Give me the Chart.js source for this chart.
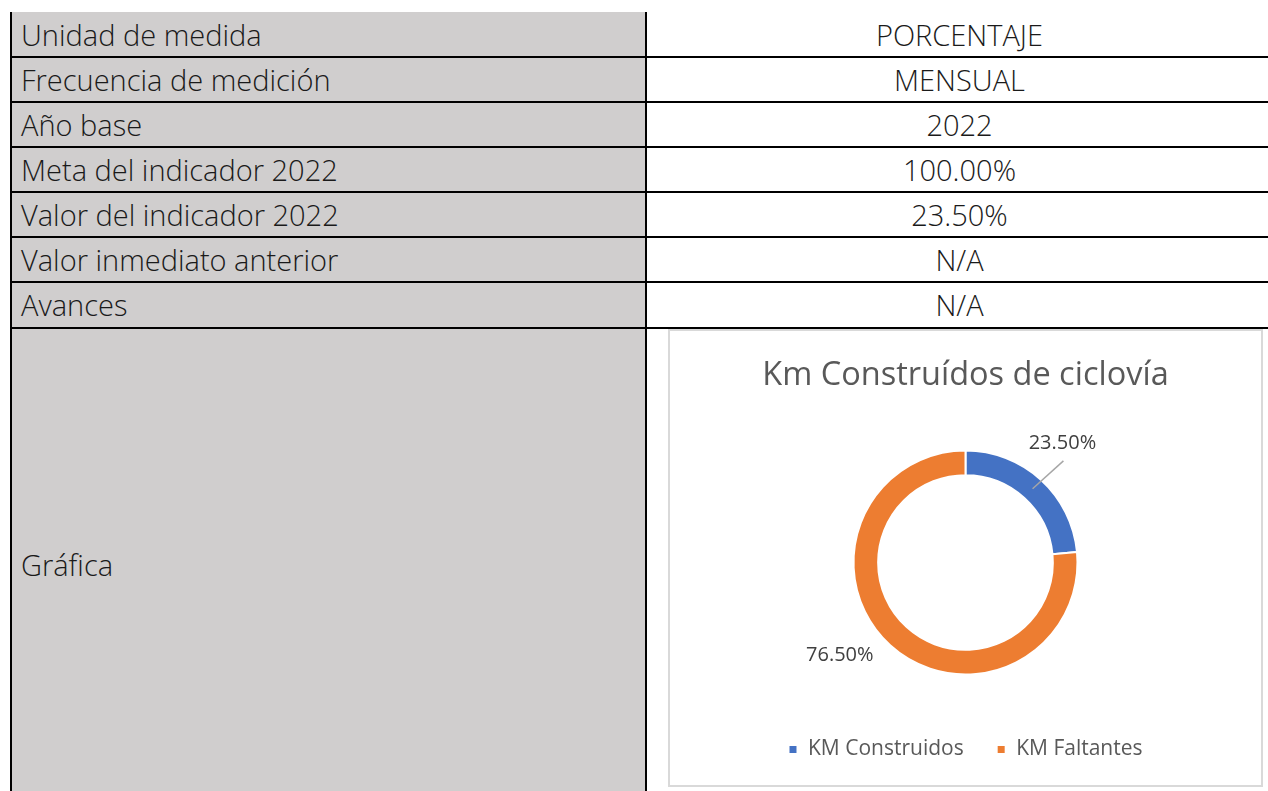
<!DOCTYPE html>
<html>
<head>
<meta charset="utf-8">
<script src="https://cdn.jsdelivr.net/npm/chart.js@4.4.0/dist/chart.umd.min.js"></script>
<style>
  html, body { margin: 0; padding: 0; background: #fff; }
  body { width: 1268px; height: 791px; position: relative; overflow: hidden; font-family: "Open Sans", sans-serif; }
  .gris { position: absolute; left: 12px; top: 12px; width: 633px; height: 779px; background: #d0cece; }
  .vline { position: absolute; background: #000; width: 2px; }
  .hline { position: absolute; background: #000; height: 2px; left: 10px; width: 1258px; }
  .celda { position: absolute; font-size: 29px; font-weight: 300; color: #1a1a1a; line-height: 45px; white-space: nowrap; }
  .izq { left: 21px; }
  .der { left: 649px; width: 621px; text-align: center; }
  #caja { position: absolute; left: 668px; top: 329px; width: 595px; height: 458px; box-sizing: border-box; border: 2px solid #d9d9d9; z-index: 2; pointer-events: none; }
  #grafico { position: absolute; left: 670px; top: 331px; width: 591px; height: 439px; z-index: 1; }
</style>
</head>
<body>
<div class="gris"></div>
<div id="tabla"></div>
<div id="grafico"><canvas id="ciclovia"></canvas></div>
<div id="caja"></div>
<script>
// Filas de la tabla
var etiquetasFilas = ['Unidad de medida', 'Frecuencia de medición', 'Año base', 'Meta del indicador 2022',
  'Valor del indicador 2022', 'Valor inmediato anterior', 'Avances', 'Gráfica'];
var valoresFilas = ['PORCENTAJE', 'MENSUAL', '2022', '100.00%', '23.50%', 'N/A', 'N/A', ''];
var limitesFilas = [12, 57, 102, 147, 192, 237, 282, 328, 802];

// Datos de la gráfica
var categorias = ['KM Construidos', 'KM Faltantes'];
var porcentajes = [23.5, 76.5];
var colores = ['#4472c4', '#ed7d31'];

var tabla = document.getElementById('tabla');
function agregar(cls, estilo, texto) {
  var d = document.createElement('div');
  d.className = cls;
  d.style.cssText = estilo;
  if (texto) d.textContent = texto;
  tabla.appendChild(d);
}
agregar('vline', 'left:10px;top:12px;height:779px;');
agregar('vline', 'left:645px;top:12px;height:779px;');
for (var i = 1; i < limitesFilas.length - 1; i++) {
  agregar('hline', 'top:' + (limitesFilas[i] - 1) + 'px;');
}
etiquetasFilas.forEach(function (txt, i) {
  var top = limitesFilas[i];
  var alto = limitesFilas[i + 1] - top;
  agregar('celda izq', 'top:' + top + 'px;line-height:' + alto + 'px;', txt);
  if (valoresFilas[i]) agregar('celda der', 'top:' + top + 'px;line-height:' + alto + 'px;', valoresFilas[i]);
});

// Etiquetas de datos con línea guía
var etiquetasPlugin = {
  id: 'etiquetas',
  afterDatasetsDraw: function (chart, args, opts) {
    var ctx = chart.ctx;
    var meta = chart.getDatasetMeta(0);
    ctx.save();
    ctx.font = '20px "Open Sans"';
    ctx.fillStyle = '#404040';
    ctx.textAlign = 'center';
    ctx.textBaseline = 'middle';
    meta.data.forEach(function (arc, i) {
      var p = arc.getProps(['x', 'y', 'startAngle', 'endAngle', 'innerRadius', 'outerRadius'], true);
      var medio = (p.startAngle + p.endAngle) / 2;
      var ang = medio + opts.ajuste[i] * Math.PI / 180;
      var lx = p.x + Math.cos(ang) * opts.distancia[i];
      var ly = p.y + Math.sin(ang) * opts.distancia[i];
      if (opts.guia[i]) {
        var r = (p.innerRadius + p.outerRadius) / 2;
        ctx.beginPath();
        ctx.strokeStyle = '#a6a6a6';
        ctx.lineWidth = 1.5;
        ctx.moveTo(p.x + Math.cos(medio) * r, p.y + Math.sin(medio) * r);
        ctx.lineTo(lx + 1, ly + 18);
        ctx.stroke();
      }
      ctx.fillText(porcentajes[i].toFixed(2) + '%', lx, ly);
    });
    ctx.restore();
  }
};

var ctx = document.getElementById('ciclovia').getContext('2d');
new Chart(ctx, {
  type: 'doughnut',
  data: {
    labels: categorias,
    datasets: [{
      data: porcentajes,
      backgroundColor: colores,
      borderColor: '#ffffff',
      borderWidth: 2,
      radius: 112,
      cutout: '78%',
      hoverOffset: 0,
      offset: 0
    }]
  },
  options: {
    responsive: true,
    maintainAspectRatio: false,
    animation: false,
    events: [],
    layout: { padding: 0 },
    plugins: {
      title: {
        display: true,
        text: 'Km Construídos de ciclovía',
        color: '#595959',
        font: { family: 'Open Sans', size: 32.5, weight: 'normal', lineHeight: 1.2 },
        padding: { top: 25.5, bottom: 23.5 }
      },
      legend: {
        position: 'bottom',
        labels: {
          color: '#595959',
          font: { family: 'Open Sans', size: 21 },
          boxWidth: 9,
          boxHeight: 9,
          padding: 33
        }
      },
      tooltip: { enabled: false },
      etiquetas: {
        distancia: [154, 156],
        ajuste: [-3.3, 11.4],
        guia: [true, false]
      }
    }
  },
  plugins: [etiquetasPlugin]
});
</script>
</body>
</html>
